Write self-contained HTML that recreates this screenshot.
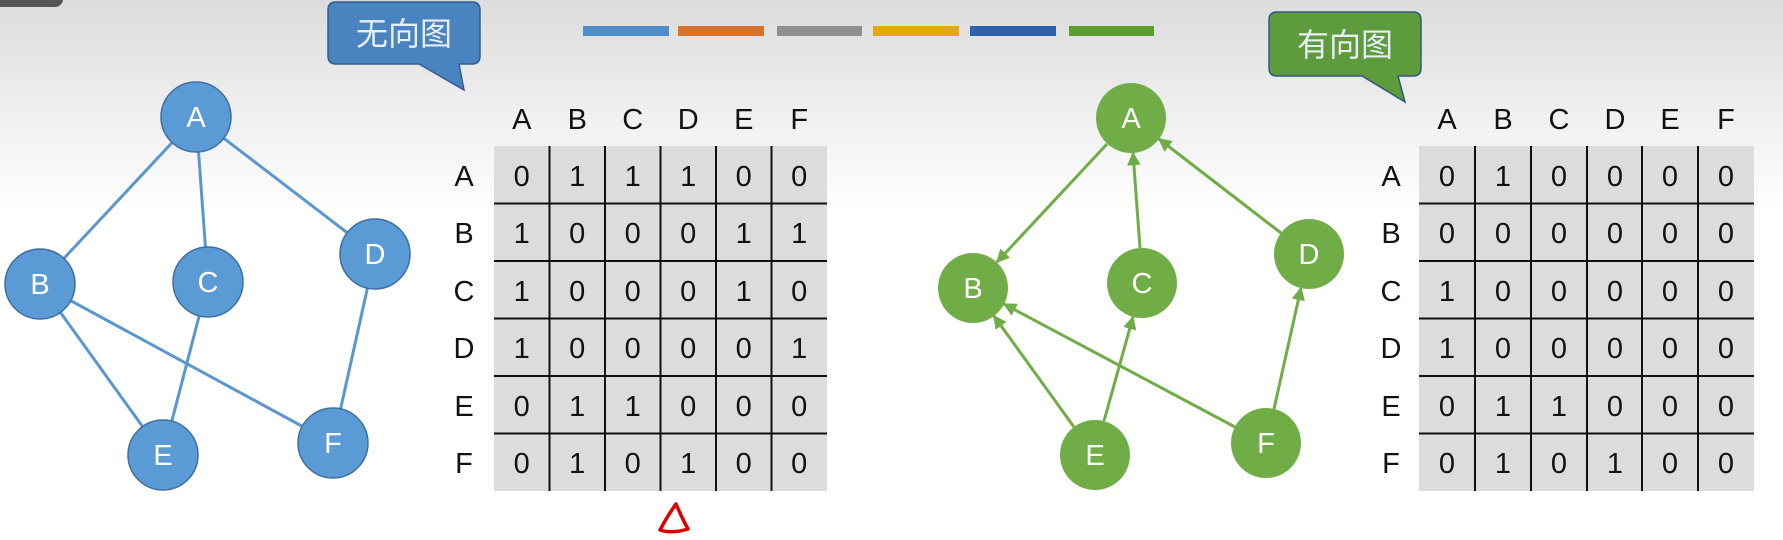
<!DOCTYPE html>
<html><head><meta charset="utf-8"><style>
html,body{margin:0;padding:0;width:1783px;height:540px;overflow:hidden;background:#fff}
svg{display:block}
.lbl{font-family:"Liberation Sans Narrow","Liberation Sans",sans-serif;font-size:29px;fill:#111;text-anchor:middle}
.nd{font-family:"Liberation Sans Narrow","Liberation Sans",sans-serif;font-size:29px;fill:#fff;text-anchor:middle}
.cj{font-family:"Liberation Sans","Noto Sans CJK SC",sans-serif;font-size:32px;fill:#e8eef5;text-anchor:middle}
</style></head><body>
<svg width="1783" height="540" viewBox="0 0 1783 540" xmlns="http://www.w3.org/2000/svg">
<defs>
<linearGradient id="bg" x1="0" y1="0" x2="0" y2="1">
<stop offset="0" stop-color="#dcdcdc"/><stop offset="0.25" stop-color="#f3f3f3"/><stop offset="0.4" stop-color="#fff"/><stop offset="1" stop-color="#fff"/>
</linearGradient>
<marker id="ar" viewBox="0 0 10 10" refX="9" refY="5" markerWidth="4.5" markerHeight="4.5" orient="auto" markerUnits="strokeWidth">
<path d="M0,0 L10,5 L0,10 z" fill="#70ad47"/></marker>
</defs>
<rect width="1783" height="540" fill="url(#bg)"/>
<rect x="-10" y="-10" width="73" height="17" rx="8" fill="#555"/>
<g>
<rect x="583" y="26" width="86" height="10" fill="#4f8fc9"/>
<rect x="678" y="26" width="86" height="10" fill="#d9732a"/>
<rect x="777" y="26" width="85" height="10" fill="#8f8f8f"/>
<rect x="873" y="26" width="86" height="10" fill="#e3a90c"/>
<rect x="970" y="26" width="86" height="10" fill="#2f62ad"/>
<rect x="1069" y="26" width="85" height="10" fill="#5c9c2f"/>
</g>
<path d="M336,2 H472 Q480,2 480,10 V56 Q480,64 472,64 H459 L464,90 L419,64 H336 Q328,64 328,56 V10 Q328,2 336,2 Z" fill="#4a84c0" stroke="#2f5f90" stroke-width="1.5"/>
<text class="cj" x="404" y="45">无向图</text>
<path d="M1277,12 H1413 Q1421,12 1421,20 V68 Q1421,76 1413,76 H1398 L1405,102 L1362,76 H1277 Q1269,76 1269,68 V20 Q1269,12 1277,12 Z" fill="#5e9b3c" stroke="#2f5a7a" stroke-width="1.5"/>
<text class="cj" x="1345" y="56">有向图</text>
<g stroke="#5b97cf" stroke-width="3">
<line x1="196" y1="117" x2="40" y2="284"/>
<line x1="196" y1="117" x2="208" y2="282"/>
<line x1="196" y1="117" x2="375" y2="254"/>
<line x1="40" y1="284" x2="163" y2="455"/>
<line x1="40" y1="284" x2="333" y2="443"/>
<line x1="208" y1="282" x2="163" y2="455"/>
<line x1="375" y1="254" x2="333" y2="443"/>
</g>
<g fill="#5b9bd5" stroke="#3f6f9f" stroke-width="1.5">
<ellipse cx="196" cy="117" rx="35" ry="35"/>
<ellipse cx="40" cy="284" rx="35" ry="35"/>
<ellipse cx="208" cy="282" rx="35" ry="35"/>
<ellipse cx="375" cy="254" rx="35" ry="35"/>
<ellipse cx="163" cy="455" rx="35" ry="35"/>
<ellipse cx="333" cy="443" rx="35" ry="35"/>
</g>
<text class="nd" x="196" y="127">A</text><text class="nd" x="40" y="294">B</text><text class="nd" x="208" y="292">C</text>
<text class="nd" x="375" y="264">D</text><text class="nd" x="163" y="465">E</text><text class="nd" x="333" y="453">F</text>
<g stroke="#70ad47" stroke-width="3" marker-end="url(#ar)">
<line x1="1107" y1="144" x2="997" y2="262"/>
<line x1="1140" y1="248" x2="1133" y2="153"/>
<line x1="1281" y1="233" x2="1159" y2="139"/>
<line x1="1074" y1="427" x2="994" y2="316"/>
<line x1="1104" y1="421" x2="1133" y2="317"/>
<line x1="1235" y1="427" x2="1004" y2="304"/>
<line x1="1274" y1="409" x2="1301" y2="288"/>
</g>
<g fill="#70ad47">
<ellipse cx="1131" cy="118" rx="35" ry="35"/>
<ellipse cx="973" cy="288" rx="35" ry="35"/>
<ellipse cx="1142" cy="283" rx="35" ry="35"/>
<ellipse cx="1309" cy="254" rx="35" ry="35"/>
<ellipse cx="1095" cy="455" rx="35" ry="35"/>
<ellipse cx="1266" cy="443" rx="35" ry="35"/>
</g>
<text class="nd" x="1131" y="128">A</text><text class="nd" x="973" y="298">B</text><text class="nd" x="1142" y="293">C</text>
<text class="nd" x="1309" y="264">D</text><text class="nd" x="1095" y="465">E</text><text class="nd" x="1266" y="453">F</text>
<rect x="494" y="146" width="333" height="345" fill="#dcdcdc"/>
<g stroke="#111" stroke-width="2">
<line x1="549.5" y1="146" x2="549.5" y2="491"/><line x1="605" y1="146" x2="605" y2="491"/>
<line x1="660.5" y1="146" x2="660.5" y2="491"/><line x1="716" y1="146" x2="716" y2="491"/>
<line x1="771.5" y1="146" x2="771.5" y2="491"/>
<line x1="494" y1="203.5" x2="827" y2="203.5"/><line x1="494" y1="261" x2="827" y2="261"/>
<line x1="494" y1="318.5" x2="827" y2="318.5"/><line x1="494" y1="376" x2="827" y2="376"/>
<line x1="494" y1="433.5" x2="827" y2="433.5"/>
</g>
<text class="lbl" x="521.75 577.25 632.75 688.25 743.75 799.25" y="129">ABCDEF</text>
<text class="lbl" x="464" y="186">A</text><text class="lbl" x="464" y="243">B</text><text class="lbl" x="464" y="301">C</text>
<text class="lbl" x="464" y="358">D</text><text class="lbl" x="464" y="416">E</text><text class="lbl" x="464" y="473">F</text>
<text class="lbl" x="521.75 577.25 632.75 688.25 743.75 799.25" y="186">011100</text>
<text class="lbl" x="521.75 577.25 632.75 688.25 743.75 799.25" y="243">100011</text>
<text class="lbl" x="521.75 577.25 632.75 688.25 743.75 799.25" y="301">100010</text>
<text class="lbl" x="521.75 577.25 632.75 688.25 743.75 799.25" y="358">100001</text>
<text class="lbl" x="521.75 577.25 632.75 688.25 743.75 799.25" y="416">011000</text>
<text class="lbl" x="521.75 577.25 632.75 688.25 743.75 799.25" y="473">010100</text>
<rect x="1419" y="146" width="335" height="345" fill="#dcdcdc"/>
<g stroke="#111" stroke-width="2">
<line x1="1475" y1="146" x2="1475" y2="491"/><line x1="1531" y1="146" x2="1531" y2="491"/>
<line x1="1587" y1="146" x2="1587" y2="491"/><line x1="1642" y1="146" x2="1642" y2="491"/>
<line x1="1698" y1="146" x2="1698" y2="491"/>
<line x1="1419" y1="203.5" x2="1754" y2="203.5"/><line x1="1419" y1="261" x2="1754" y2="261"/>
<line x1="1419" y1="318.5" x2="1754" y2="318.5"/><line x1="1419" y1="376" x2="1754" y2="376"/>
<line x1="1419" y1="433.5" x2="1754" y2="433.5"/>
</g>
<text class="lbl" x="1447 1503 1559 1615 1670 1726" y="129">ABCDEF</text>
<text class="lbl" x="1391" y="186">A</text><text class="lbl" x="1391" y="243">B</text><text class="lbl" x="1391" y="301">C</text>
<text class="lbl" x="1391" y="358">D</text><text class="lbl" x="1391" y="416">E</text><text class="lbl" x="1391" y="473">F</text>
<text class="lbl" x="1447 1503 1559 1615 1670 1726" y="186">010000</text>
<text class="lbl" x="1447 1503 1559 1615 1670 1726" y="243">000000</text>
<text class="lbl" x="1447 1503 1559 1615 1670 1726" y="301">100000</text>
<text class="lbl" x="1447 1503 1559 1615 1670 1726" y="358">100000</text>
<text class="lbl" x="1447 1503 1559 1615 1670 1726" y="416">011000</text>
<text class="lbl" x="1447 1503 1559 1615 1670 1726" y="473">010100</text>
<path d="M676,504 Q668,515 660,530 Q672,534 688,529 Q682,518 676,504 Z" fill="none" stroke="#e00000" stroke-width="3.5" stroke-linejoin="round"/>
</svg>
</body></html>
